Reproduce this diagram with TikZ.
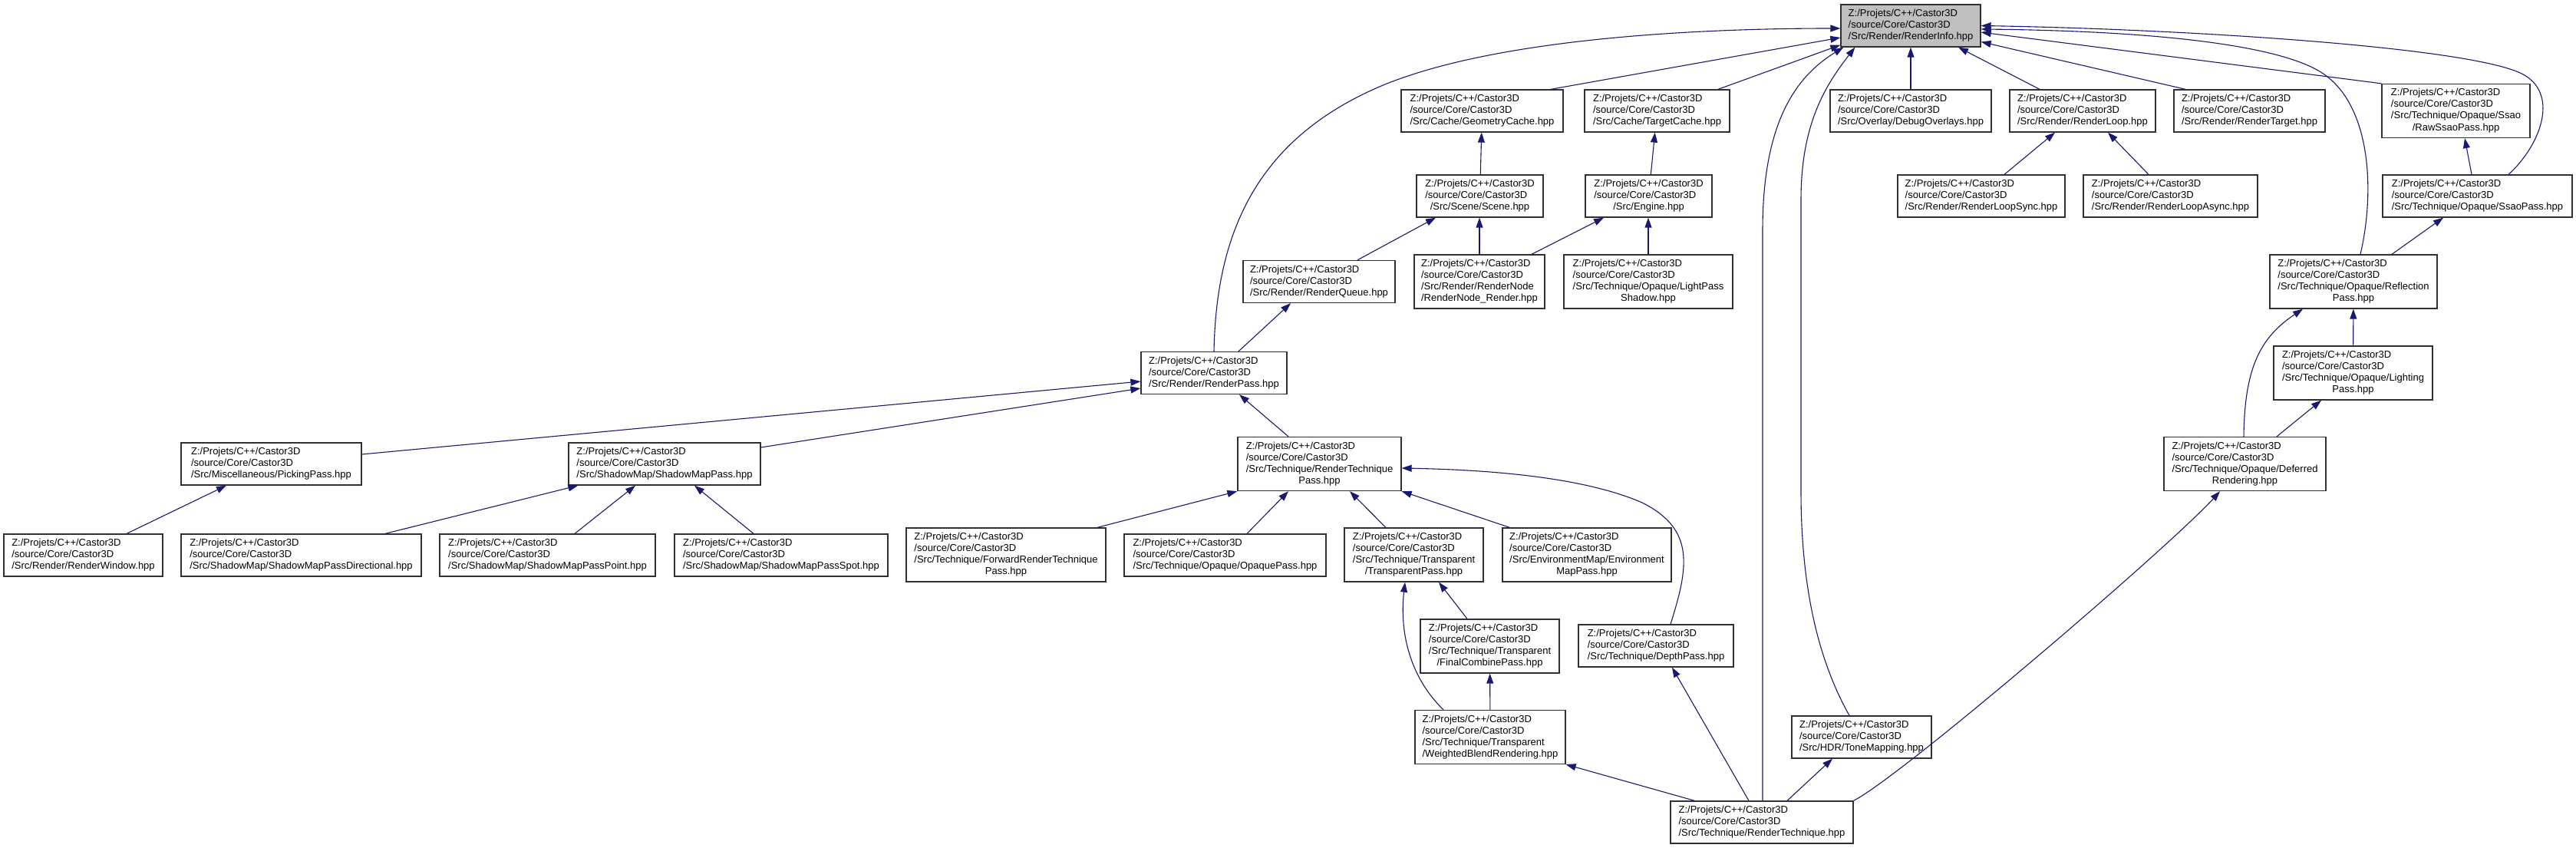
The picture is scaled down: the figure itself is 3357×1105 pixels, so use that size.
\documentclass[tikz,border=0pt]{standalone}
\usepackage{fontspec}
\usepackage{xcolor}
\usepackage{tikz}
\usetikzlibrary{arrows.meta}
\newfontfamily\docfont{Liberation Sans}
\definecolor{DocBlue}{HTML}{191970}
\definecolor{DocGray}{HTML}{BFBFBF}
\definecolor{DocLine}{HTML}{303030}
\newcommand{\hpath}[1]{\begin{tabular}{@{}l@{}}Z:/Projets/C++/Castor3D\\/source/Core/Castor3D\\\multicolumn{1}{@{}c@{}}{#1}\end{tabular}}
\newcommand{\hpathx}[2]{\begin{tabular}{@{}l@{}}Z:/Projets/C++/Castor3D\\/source/Core/Castor3D\\#1\\\multicolumn{1}{@{}c@{}}{#2}\end{tabular}}
\tikzset{
  filenode/.style={draw=DocLine,fill=white,line width=1.3pt,inner xsep=4pt,inner ysep=5pt,font=\docfont\fontsize{13pt}{15pt}\selectfont},
  rootnode/.style={filenode,fill=DocGray},
  incarrow/.style={-{Triangle[length=13pt,width=9pt]},line width=1.1pt,draw=DocBlue}
}

\begin{document}
\begin{tikzpicture}[x=1pt,y=-1pt]
\fill[white] (0,0) rectangle (3357,1105);
\node[rootnode,minimum width=182pt] (root) at (2490,33.5) {\hpath{/Src/Render/RenderInfo.hpp}};
\node[filenode,minimum width=211pt] (geom) at (1931.5,144.5) {\hpath{/Src/Cache/GeometryCache.hpp}};
\node[filenode,minimum width=189pt] (tcache) at (2159.5,144.5) {\hpath{/Src/Cache/TargetCache.hpp}};
\node[filenode,minimum width=210pt] (overlays) at (2490,144.5) {\hpath{/Src/Overlay/DebugOverlays.hpp}};
\node[filenode,minimum width=190pt] (loop) at (2714,144.5) {\hpath{/Src/Render/RenderLoop.hpp}};
\node[filenode,minimum width=197pt] (rtarget) at (2931.5,144.5) {\hpath{/Src/Render/RenderTarget.hpp}};
\node[filenode,minimum width=193pt] (rawssao) at (3200.5,144.5) {\hpathx{/Src/Technique/Opaque/Ssao}{/RawSsaoPass.hpp}};
\node[filenode,minimum width=165pt] (scene) at (1928.5,255.5) {\hpath{/Src/Scene/Scene.hpp}};
\node[filenode,minimum width=165pt] (engine) at (2148.5,255.5) {\hpath{/Src/Engine.hpp}};
\node[filenode,minimum width=218pt] (loopsync) at (2582,255.5) {\hpath{/Src/Render/RenderLoopSync.hpp}};
\node[filenode,minimum width=227pt] (loopasync) at (2828.5,255.5) {\hpath{/Src/Render/RenderLoopAsync.hpp}};
\node[filenode,minimum width=247pt] (ssao) at (3228.5,255.5) {\hpath{/Src/Technique/Opaque/SsaoPass.hpp}};
\node[filenode,minimum width=198pt] (queue) at (1719,367) {\hpath{/Src/Render/RenderQueue.hpp}};
\node[filenode,minimum width=170pt] (rnode) at (1928,367) {\hpathx{/Src/Render/RenderNode}{/RenderNode\_Render.hpp}};
\node[filenode,minimum width=220pt] (lshadow) at (2148,367) {\hpathx{/Src/Technique/Opaque/LightPass}{Shadow.hpp}};
\node[filenode,minimum width=218pt] (reflect) at (3067,367) {\hpathx{/Src/Technique/Opaque/Reflection}{Pass.hpp}};
\node[filenode,minimum width=190pt] (rpass) at (1582,486) {\hpath{/Src/Render/RenderPass.hpp}};
\node[filenode,minimum width=207pt] (lighting) at (3066.5,486) {\hpathx{/Src/Technique/Opaque/Lighting}{Pass.hpp}};
\node[filenode,minimum width=235pt] (picking) at (353.5,604.5) {\hpath{/Src/Miscellaneous/PickingPass.hpp}};
\node[filenode,minimum width=250pt] (smpass) at (866,604.5) {\hpath{/Src/ShadowMap/ShadowMapPass.hpp}};
\node[filenode,minimum width=213pt] (rtpass) at (1719.5,604.5) {\hpathx{/Src/Technique/RenderTechnique}{Pass.hpp}};
\node[filenode,minimum width=211pt] (deferred) at (2925.5,604.5) {\hpathx{/Src/Technique/Opaque/Deferred}{Rendering.hpp}};
\node[filenode,minimum width=207pt] (window) at (108.5,723.5) {\hpath{/Src/Render/RenderWindow.hpp}};
\node[filenode,minimum width=313pt] (smdir) at (392.5,723.5) {\hpath{/Src/ShadowMap/ShadowMapPassDirectional.hpp}};
\node[filenode,minimum width=281pt] (smpoint) at (713.5,723.5) {\hpath{/Src/ShadowMap/ShadowMapPassPoint.hpp}};
\node[filenode,minimum width=278pt] (smspot) at (1018,723.5) {\hpath{/Src/ShadowMap/ShadowMapPassSpot.hpp}};
\node[filenode,minimum width=260pt] (forward) at (1311,723) {\hpathx{/Src/Technique/ForwardRenderTechnique}{Pass.hpp}};
\node[filenode,minimum width=263pt] (opaque) at (1596.5,723.5) {\hpath{/Src/Technique/Opaque/OpaquePass.hpp}};
\node[filenode,minimum width=181pt] (transp) at (1842.5,723) {\hpathx{/Src/Technique/Transparent}{/TransparentPass.hpp}};
\node[filenode,minimum width=220pt] (envmap) at (2068,723) {\hpathx{/Src/EnvironmentMap/Environment}{MapPass.hpp}};
\node[filenode,minimum width=181pt] (fcombine) at (1941.5,842) {\hpathx{/Src/Technique/Transparent}{/FinalCombinePass.hpp}};
\node[filenode,minimum width=202pt] (depth) at (2158,841.5) {\hpath{/Src/Technique/DepthPass.hpp}};
\node[filenode,minimum width=196pt] (wblend) at (1942,960.5) {\hpathx{/Src/Technique/Transparent}{/WeightedBlendRendering.hpp}};
\node[filenode,minimum width=182pt] (tonemap) at (2426,960.5) {\hpath{/Src/HDR/ToneMapping.hpp}};
\node[filenode,minimum width=238pt] (technique) at (2296,1071.5) {\hpath{/Src/Technique/RenderTechnique.hpp}};
\draw[incarrow] (rpass.north) .. controls (1585,300) and (1640,180) .. (1800,112) .. controls (1960,45) and (2250,37) .. ([yshift=-3.5pt]root.west);
\draw[incarrow] ([xshift=89.5pt]geom.north) -- ([yshift=-15.5pt]root.west);
\draw[incarrow] ([xshift=79.5pt]tcache.north) -- ([yshift=3pt]root.south west);
\draw[incarrow] ([xshift=1pt]technique.north) -- (2297,300) .. controls (2297,160) and (2340,100) .. ([xshift=4pt]root.south west);
\draw[incarrow] ([xshift=-16pt]tonemap.north) .. controls (2375,870) and (2347,780) .. (2347,640) -- (2347,260) .. controls (2347,160) and (2380,110) .. ([xshift=19pt]root.south west);
\draw[incarrow] (overlays) -- (root);
\draw[incarrow] ([xshift=-56pt]loop.north) -- ([xshift=62pt]root.south);
\draw[incarrow] ([xshift=-83.5pt]rtarget.north) -- ([yshift=-21pt]root.east);
\draw[incarrow] (rawssao.north west) -- ([yshift=-8.5pt]root.east);
\draw[incarrow] ([xshift=40.5pt]ssao.north) .. controls (3310,190) and (3335,125) .. (3290,98) .. controls (3230,62) and (2850,38) .. (root.east);
\draw[incarrow] ([xshift=9pt]reflect.north) .. controls (3095,250) and (3090,140) .. (3029,97) .. controls (2970,55) and (2780,40) .. ([yshift=-4.5pt]root.east);
\draw[incarrow] (scene) -- (geom);
\draw[incarrow] (engine) -- (tcache);
\draw[incarrow] ([xshift=50pt]queue.north) -- ([xshift=-57.5pt]scene.south);
\draw[incarrow] (rnode.north) -- (rnode.north |- scene.south);
\draw[incarrow] ([xshift=68pt]rnode.north) -- ([xshift=-58.5pt]engine.south);
\draw[incarrow] (lshadow.north) -- (lshadow.north |- engine.south);
\draw[incarrow] ([xshift=30pt]loopsync.north) -- ([xshift=-36pt]loop.south);
\draw[incarrow] ([xshift=-28.5pt]loopasync.north) -- ([xshift=33pt]loop.south);
\draw[incarrow] ([xshift=-7.5pt]ssao.north) -- ([xshift=11.5pt]rawssao.south);
\draw[incarrow] ([xshift=50pt]reflect.north) -- ([xshift=-44.5pt]ssao.south);
\draw[incarrow] (lighting) -- (reflect);
\draw[incarrow] ([xshift=-1.5pt]deferred.north) .. controls (2925,480) and (2945,440) .. ([xshift=-66pt]reflect.south);
\draw[incarrow] ([xshift=41.5pt]deferred.north) -- ([xshift=-41.5pt]lighting.south);
\draw[incarrow] ([xshift=32pt]rpass.north) -- ([xshift=-37pt]queue.south);
\draw[incarrow] ([yshift=12.5pt]picking.east) -- ([yshift=-11pt]rpass.west);
\draw[incarrow] ([yshift=21.5pt]smpass.east) -- ([yshift=-20pt]rpass.west);
\draw[incarrow] ([xshift=-40.5pt]rtpass.north) -- ([xshift=33pt]rpass.south);
\draw[incarrow] ([xshift=56.5pt]window.north) -- ([xshift=-58.5pt]picking.south);
\draw[incarrow] ([xshift=109.5pt]smdir.north) -- ([xshift=13pt]smpass.south west);
\draw[incarrow] ([xshift=35.5pt]smpoint.north) -- ([xshift=-38pt]smpass.south);
\draw[incarrow] ([xshift=-36pt]smspot.north) -- ([xshift=39pt]smpass.south);
\draw[incarrow] ([xshift=119pt]forward.north) -- (rtpass.south west);
\draw[incarrow] ([xshift=28.5pt]opaque.north) -- ([xshift=-40.5pt]rtpass.south);
\draw[incarrow] ([xshift=-36.5pt]transp.north) -- ([xshift=39.5pt]rtpass.south);
\draw[incarrow] ([xshift=10pt]envmap.north west) -- (rtpass.south east);
\draw[incarrow] ([xshift=19pt]depth.north) .. controls (2200,740) and (2210,690) .. (2140,655) .. controls (2060,620) and (1930,612) .. ([yshift=-5.5pt]rtpass.east);
\draw[incarrow] ([xshift=-29.5pt]fcombine.north) -- ([xshift=32.5pt]transp.south);
\draw[incarrow] ([xshift=-61pt]wblend.north) .. controls (1835,880) and (1824,820) .. ([xshift=-11.5pt]transp.south);
\draw[incarrow] (wblend) -- (fcombine);
\draw[incarrow] ([xshift=32pt]technique.north west) -- (wblend.south east);
\draw[incarrow] ([xshift=-17pt]technique.north) -- ([xshift=21pt]depth.south);
\draw[incarrow] ([xshift=33pt]technique.north) -- ([xshift=-38pt]tonemap.south);
\draw[incarrow] (technique.north east) .. controls (2480,1010) and (2830,710) .. ([xshift=-32.5pt]deferred.south);
\end{tikzpicture}
\end{document}
